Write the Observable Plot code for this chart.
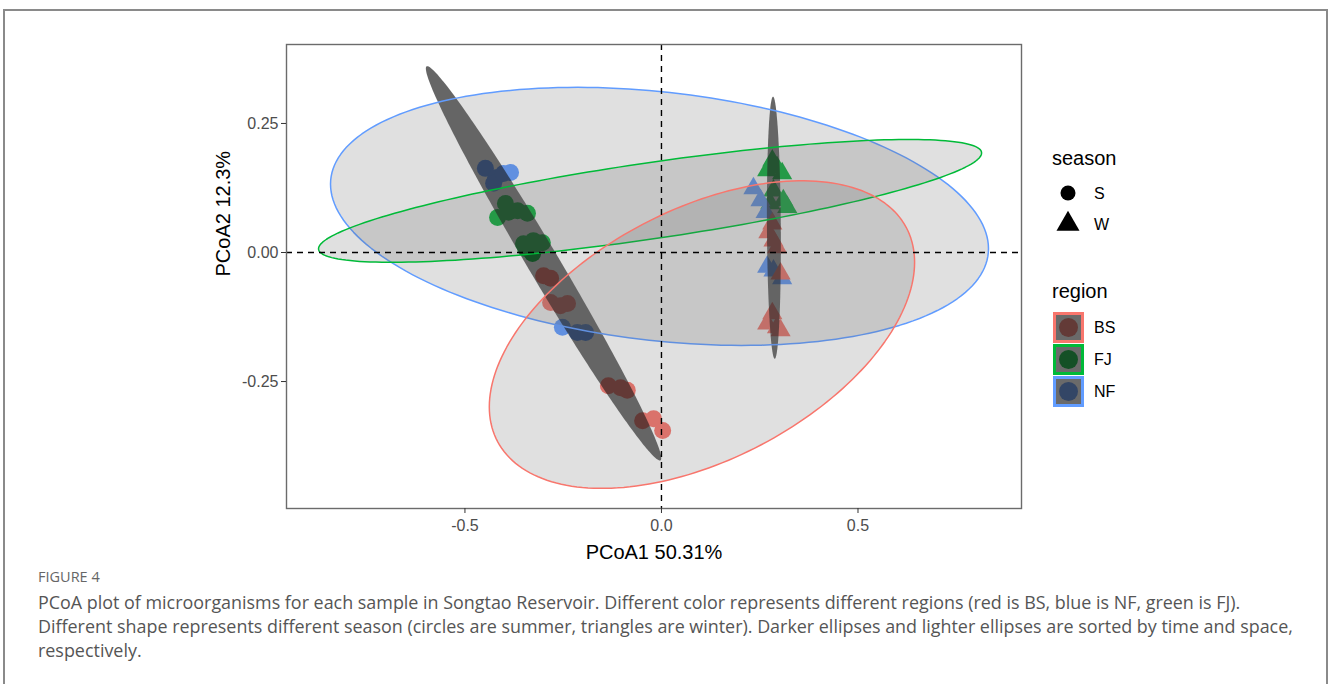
<!DOCTYPE html>
<html><head><meta charset="utf-8">
<script src="https://cdn.jsdelivr.net/npm/d3@7"></script>
<script src="https://cdn.jsdelivr.net/npm/@observablehq/plot@0.6"></script>
<style>
html,body{margin:0;padding:0;background:#fff;width:1330px;height:684px;overflow:hidden;position:relative;}
#frame{position:absolute;left:3px;top:9px;width:1325px;height:720px;border:2px solid #8a8a8a;box-sizing:border-box;}
#chart{position:absolute;left:0;top:0;}
#legend{position:absolute;left:0;top:0;}
.cap{position:absolute;left:38px;font-family:"Open Sans",sans-serif;color:#555;white-space:nowrap;line-height:24px;}
</style></head>
<body>
<div id="frame"></div>
<div id="chart"></div>
<svg id="legend" width="1330" height="684"></svg>
<div class="cap" id="fig" style="top:567px;font-size:14.5px;color:#666;line-height:20px;">FIGURE 4</div>
<div class="cap body" style="top:590px;">PCoA plot of microorganisms for each sample in Songtao Reservoir. Different color represents different regions (red is BS, blue is NF, green is FJ).</div>
<div class="cap body" id="l2" style="top:614px;">Different shape represents different season (circles are summer, triangles are winter). Darker ellipses and lighter ellipses are sorted by time and space,</div>
<div class="cap body" style="top:638px;">respectively.</div>
<script>
// ---- data ----
const regions = ["BS", "FJ", "NF"];
const regionColors = ["#F8766D", "#00BA38", "#619CFF"];
const seasons = ["S", "W"];
const seasonSymbols = ["circle", "triangle"];
const xTicks = [-0.5, 0, 0.5];
const yTicks = [-0.25, 0, 0.25];
const xLabel = "PCoA1 50.31%";
const yLabel = "PCoA2 12.3%";

const pointRegion = [
  "NF","NF","NF","NF","NF","NF","NF","NF",
  "FJ","FJ","FJ","FJ","FJ","FJ","FJ","FJ","FJ","FJ",
  "BS","BS","BS","BS","BS","BS","BS","BS","BS","BS","BS",
  "FJ","FJ","FJ","FJ","FJ","FJ","FJ","FJ",
  "NF","NF","NF","NF","NF","NF",
  "BS","BS","BS","BS","BS","BS","BS","BS","BS"
];
const pointSeason = [
  "S","S","S","S","S","S","S","S",
  "S","S","S","S","S","S","S","S","S","S",
  "S","S","S","S","S","S","S","S","S","S","S",
  "W","W","W","W","W","W","W","W",
  "W","W","W","W","W","W",
  "W","W","W","W","W","W","W","W","W"
];
const pcoa1 = [
  -0.448,-0.422,-0.427,-0.384,-0.402,-0.252,-0.214,-0.193,
  -0.417,-0.397,-0.389,-0.366,-0.341,-0.351,-0.326,-0.303,-0.328,-0.346,
  -0.300,-0.282,-0.282,-0.257,-0.239,-0.135,-0.104,-0.087,-0.048,-0.020,0.003,
  0.282,0.294,0.269,0.307,0.285,0.310,0.320,0.277,
  0.234,0.252,0.265,0.269,0.285,0.307,
  0.282,0.272,0.285,0.294,0.303,0.282,0.269,0.294,0.303
];
const pcoa2 = [
  0.163,0.145,0.134,0.155,0.153,-0.145,-0.155,-0.155,
  0.068,0.095,0.078,0.081,0.076,0.017,0.023,0.019,-0.002,0.008,
  -0.045,-0.050,-0.097,-0.103,-0.099,-0.258,-0.262,-0.267,-0.326,-0.322,-0.345,
  0.178,0.165,0.159,0.153,0.120,0.101,0.088,0.095,
  0.124,0.101,0.078,-0.028,-0.035,-0.050,
  0.056,0.039,0.023,0.010,-0.041,-0.118,-0.138,-0.145,-0.151
];

// ellipses: centre, horizontal/vertical half-extent, correlation
const ellipseGroup = ["NF", "FJ", "BS", "S", "W"];
const ellipseKind  = ["region", "region", "region", "season", "season"];
const ellipseCx    = [-0.005, -0.029, 0.103, -0.300, 0.286];
const ellipseCy    = [0.070, 0.100, -0.159, -0.021, 0.048];
const ellipseRx    = [0.837, 0.8435, 0.541, 0.2995, 0.0178];
const ellipseRy    = [0.250, 0.119, 0.298, 0.382, 0.254];
const ellipseCorr  = [-0.25, 0.78, 0.47, -0.988, -0.12];

// ---- build tables ----
const points = pcoa1.map((v, i) => ({x: v, y: pcoa2[i], region: pointRegion[i], season: pointSeason[i]}));
function outline(i) {
  const n = 200, k = ellipseCorr[i], s = Math.sqrt(1 - k * k), out = [];
  for (let j = 0; j <= n; j++) {
    const t = 2 * Math.PI * j / n;
    out.push({group: ellipseGroup[i], kind: ellipseKind[i],
      x: ellipseCx[i] + ellipseRx[i] * Math.cos(t),
      y: ellipseCy[i] + ellipseRy[i] * (k * Math.cos(t) - s * Math.sin(t))});
  }
  return out;
}
const ellipsePts = ellipseGroup.flatMap((g, i) => outline(i));
const darkPts = ellipsePts.filter(d => d.kind === "season");
const lightPts = ellipsePts.filter(d => d.kind === "region");

const font = "'Liberation Sans', Arial, sans-serif";
const chart = Plot.plot({
  width: 1330, height: 684,
  marginLeft: 286, marginRight: 309, marginTop: 44, marginBottom: 176,
  x: {domain: [-0.954, 0.916]},
  y: {domain: [-0.496, 0.403]},
  color: {domain: regions, range: regionColors},
  symbol: {domain: seasons, range: seasonSymbols},
  style: {fontFamily: font, background: "transparent", color: "#4d4d4d"},
  marks: [
    Plot.dot(points.filter(d => d.season === "S"), {x: "x", y: "y", fill: "region", symbol: "season", r: 8.5, stroke: null}),
    Plot.dot(points.filter(d => d.season === "W"), {x: "x", y: "y", fill: "region", symbol: "season", r: 7.5, stroke: null}),
    Plot.line(darkPts, {x: "x", y: "y", z: "group", fill: "black", fillOpacity: 0.6, stroke: null, clip: true}),
    Plot.line(lightPts, {x: "x", y: "y", z: "group", fill: "#666666", fillOpacity: 0.2, stroke: "group", strokeWidth: 1.5, clip: true}),
    Plot.ruleX([0], {stroke: "black", strokeWidth: 1.4, strokeDasharray: "6,5"}),
    Plot.ruleY([0], {stroke: "black", strokeWidth: 1.4, strokeDasharray: "6,5"}),
    Plot.frame({stroke: "#6b6b6b", strokeWidth: 1.4}),
    Plot.axisX({ticks: xTicks, tickFormat: d => d.toFixed(1), tickSize: 5, tickPadding: 6, fontSize: 16, label: null, stroke: "#333"}),
    Plot.axisY({ticks: yTicks, tickFormat: d => d.toFixed(2), tickSize: 5, tickPadding: 3, fontSize: 16, label: null, stroke: "#333"}),
    Plot.text([xLabel], {text: d => d, frameAnchor: "bottom", dy: 50, fontSize: 20, fill: "black"}),
    Plot.text([yLabel], {text: d => d, frameAnchor: "left", dx: -63, rotate: -90, fontSize: 20, fill: "black"})
  ]
});
document.getElementById("chart").appendChild(chart);

// ---- legend ----
const lg = d3.select("#legend").style("font-family", font);
lg.append("text").attr("x", 1052).attr("y", 165).attr("font-size", 20).text("season");
seasons.forEach((s, i) => {
  const cy = 193 + i * 31;
  lg.append("path").attr("transform", `translate(1068,${cy})`)
    .attr("d", d3.symbol(i === 0 ? d3.symbolCircle : d3.symbolTriangle, i === 0 ? Math.PI * 7.5 * 7.5 : 230)())
    .attr("fill", "black");
  lg.append("text").attr("x", 1094).attr("y", cy + 6).attr("font-size", 16).text(s);
});
lg.append("text").attr("x", 1052).attr("y", 298).attr("font-size", 20).text("region");
const dark = c => { const q = d3.rgb(c); return d3.rgb(q.r * 0.4 * 0.8 + 20, q.g * 0.4 * 0.8 + 20, q.b * 0.4 * 0.8 + 20).toString(); };
regions.forEach((r, i) => {
  const top = 312 + i * 32;
  lg.append("rect").attr("x", 1054.5).attr("y", top + 1.5).attr("width", 28).attr("height", 28)
    .attr("fill", "#6a6a6a").attr("stroke", regionColors[i]).attr("stroke-width", 3);
  lg.append("circle").attr("cx", 1068.5).attr("cy", top + 15.5).attr("r", 9.5).attr("fill", dark(regionColors[i]));
  lg.append("text").attr("x", 1094).attr("y", top + 21).attr("font-size", 16).text(r);
});

// ---- caption fit ----
const l2 = document.getElementById("l2");
let fs = 16;
document.querySelectorAll(".body").forEach(e => e.style.fontSize = fs + "px");
const w = l2.getBoundingClientRect().width;
fs = fs * 1255 / w;
document.querySelectorAll(".body").forEach(e => e.style.fontSize = fs.toFixed(2) + "px");
</script>
</body></html>
